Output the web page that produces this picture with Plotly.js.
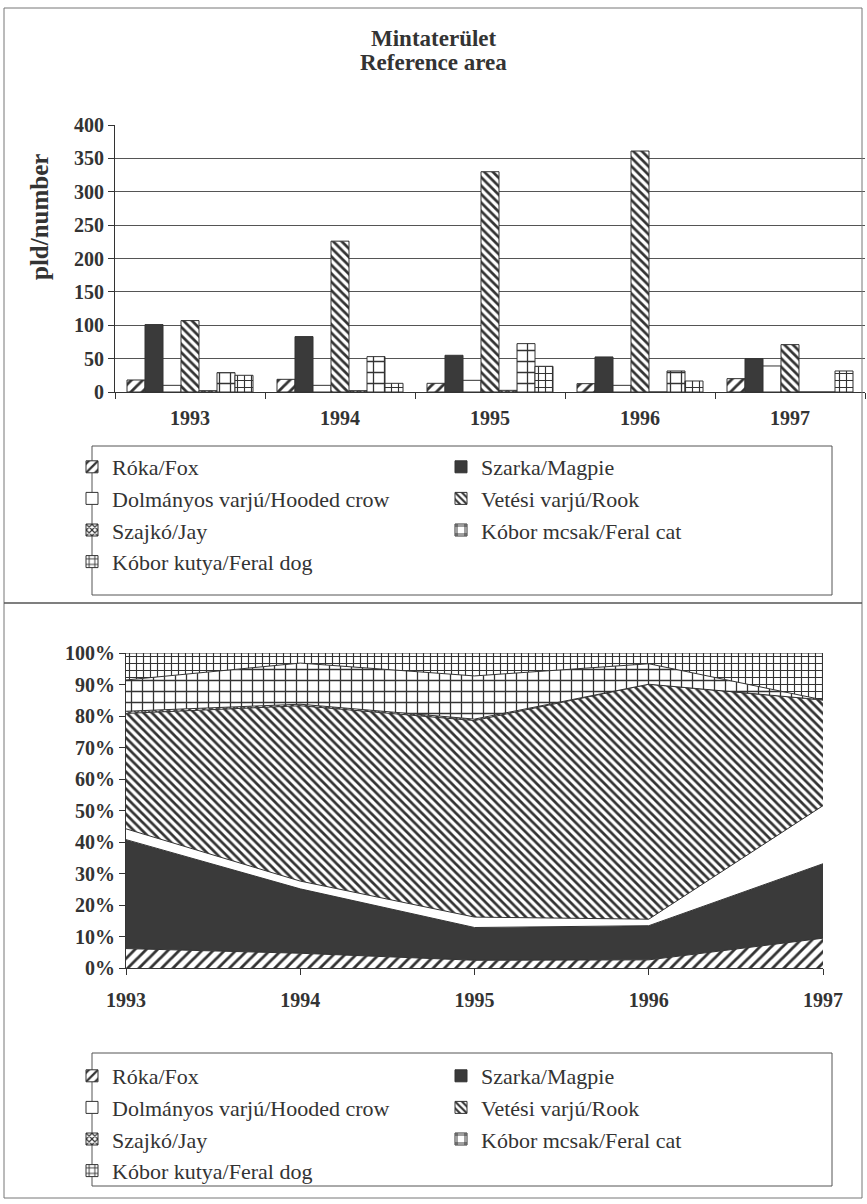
<!DOCTYPE html>
<html><head><meta charset="utf-8">
<script src="https://cdn.plot.ly/plotly-3.0.1.min.js"></script>
<style>html,body{margin:0;padding:0;background:#fff}#chart{width:867px;height:1204px}</style>
</head><body><div id="chart"></div>
<script>
// ---- data ----
const years = ['1993', '1994', '1995', '1996', '1997'];
const yearNums = [1993, 1994, 1995, 1996, 1997];
const seriesNames = ['Róka/Fox', 'Szarka/Magpie', 'Dolmányos varjú/Hooded crow', 'Vetési varjú/Rook',
  'Szajkó/Jay', 'Kóbor mcsak/Feral cat', 'Kóbor kutya/Feral dog'];
const fox = [18, 19, 13, 12.5, 20];
const magpie = [101, 83, 55, 52.5, 50];
const hoodedCrow = [10, 10, 17.5, 10, 39];
const rook = [107, 226, 330, 361, 71];
const jay = [2, 2, 2.5, 0, 0];
const feralCat = [29, 53, 72.5, 31.5, 0];
const feralDog = [25, 13, 38.5, 16.5, 31.5];
const seriesValues = [fox, magpie, hoodedCrow, rook, jay, feralCat, feralDog];
const titleLines = ['Mintaterület', 'Reference area'];
const yTitle = 'pld/number';

// ---- styles ----
const INK = '#333';
const FONT = 'Liberation Serif';
const W = 867, H = 1204;
const px = v => v / W;
const py = v => 1 - v / H;
const styles = [
  {shape: '/', size: 8, solidity: 0.35},
  {solid: '#3a3a3a'},
  {solid: '#ffffff'},
  {shape: '\\', size: 6, solidity: 0.45},
  {shape: 'x', size: 5, solidity: 0.5},
  {shape: '+', size: 11, solidity: 0.22},
  {shape: '+', size: 7, solidity: 0.3}
];

function barMarker(s) {
  if (s.solid) return {color: s.solid, line: {color: INK, width: 1}};
  return {color: '#ffffff', line: {color: INK, width: 1},
    pattern: {shape: s.shape, fgcolor: INK, bgcolor: '#ffffff', size: s.size, solidity: s.solidity, fillmode: 'replace'}};
}

const traces = [];
// bar chart
seriesNames.forEach((name, i) => {
  traces.push({type: 'bar', name: name, x: years, y: seriesValues[i], xaxis: 'x', yaxis: 'y',
    legend: 'legend', marker: barMarker(styles[i]), hoverinfo: 'x+y+name'});
});
// 100% stacked area chart
seriesNames.forEach((name, i) => {
  const s = styles[i];
  const t = {type: 'scatter', name: name, x: yearNums, y: seriesValues[i], xaxis: 'x2', yaxis: 'y2',
    stackgroup: 'one', groupnorm: 'percent', mode: 'lines', line: {color: INK, width: 1},
    showlegend: false};
  if (s.solid) { t.fillcolor = s.solid; }
  else { t.fillcolor = '#ffffff'; t.fillpattern = {shape: s.shape, fgcolor: INK, bgcolor: '#ffffff', size: s.size, solidity: s.solidity}; }
  traces.push(t);
});
// legend entries for the second chart
seriesNames.forEach((name, i) => {
  traces.push({type: 'bar', name: name, x: [null], y: [null], xaxis: 'x2', yaxis: 'y2',
    legend: 'legend2', marker: barMarker(styles[i]), hoverinfo: 'skip'});
});

const tickFont = {family: FONT, size: 20, color: INK, weight: 'bold'};
function legendCfg(x, y) {
  return {x: x, y: y, orientation: 'h', xanchor: 'left', yanchor: 'top', entrywidth: 324, entrywidthmode: 'pixels',
    font: {family: FONT, size: 22, color: INK}, bgcolor: 'rgba(0,0,0,0)', borderwidth: 0,
    traceorder: 'normal', itemclick: false, itemdoubleclick: false};
}

const layout = {
  width: W, height: H, margin: {l: 0, r: 0, t: 0, b: 0},
  font: {family: FONT, color: INK},
  paper_bgcolor: '#fff', plot_bgcolor: 'rgba(0,0,0,0)',
  barmode: 'group', bargap: 0.16, bargroupgap: 0,
  title: {text: ''},
  xaxis: {domain: [px(115), px(865)], anchor: 'y', type: 'category', showline: true, linecolor: INK,
    ticks: 'outside', tickson: 'boundaries', ticklen: 6, tickcolor: INK, tickfont: tickFont, showgrid: false,
    ticklabelstandoff: 8, fixedrange: true},
  yaxis: {domain: [py(392), py(125)], anchor: 'x', range: [0, 400], dtick: 50, showgrid: true, gridcolor: '#555',
    showline: true, linecolor: INK, ticks: 'outside', ticklen: 6, tickcolor: INK, tickfont: tickFont, zeroline: false, fixedrange: true},
  xaxis2: {domain: [px(126), px(823)], anchor: 'y2', range: [1993, 1997], dtick: 1, tickformat: 'd', showline: true,
    linecolor: INK, ticks: 'outside', ticklen: 6, tickcolor: INK, tickfont: tickFont, showgrid: false, zeroline: false,
    ticklabelstandoff: 8, fixedrange: true},
  yaxis2: {domain: [py(968), py(653)], anchor: 'x2', range: [0, 100], dtick: 10, ticksuffix: '%', showline: true,
    linecolor: INK, ticks: 'outside', ticklen: 6, tickcolor: INK, tickfont: tickFont, showgrid: false, zeroline: false, fixedrange: true},
  legend: legendCfg(px(72), py(446)),
  legend2: legendCfg(px(72), py(1055)),
  annotations: [
    {text: titleLines[0], xref: 'paper', yref: 'paper', x: 0.5, y: py(38), xanchor: 'center', yanchor: 'middle', showarrow: false,
      font: {family: FONT, size: 23, color: INK, weight: 'bold'}},
    {text: titleLines[1], xref: 'paper', yref: 'paper', x: 0.5, y: py(63), xanchor: 'center', yanchor: 'middle', showarrow: false,
      font: {family: FONT, size: 23, color: INK, weight: 'bold'}},
    {text: yTitle, xref: 'paper', yref: 'paper', x: px(40), y: py(217), xanchor: 'center', yanchor: 'middle', textangle: -90, showarrow: false,
      font: {family: FONT, size: 25, color: INK, weight: 'bold'}}
  ],
  shapes: [
    {type: 'rect', xref: 'paper', yref: 'paper', x0: px(4), x1: px(862), y0: py(1198), y1: py(8), line: {color: '#777', width: 1}},
    {type: 'line', xref: 'paper', yref: 'paper', x0: px(4), x1: px(862), y0: py(603), y1: py(603), line: {color: '#555', width: 1.5}},
    {type: 'rect', xref: 'paper', yref: 'paper', x0: px(92), x1: px(832), y0: py(595), y1: py(446), line: {color: '#555', width: 1}},
    {type: 'rect', xref: 'paper', yref: 'paper', x0: px(92), x1: px(832), y0: py(1186), y1: py(1053), line: {color: '#555', width: 1}}
  ],
  showlegend: true
};

Plotly.newPlot('chart', traces, layout, {displayModeBar: false});
</script>
</body></html>
